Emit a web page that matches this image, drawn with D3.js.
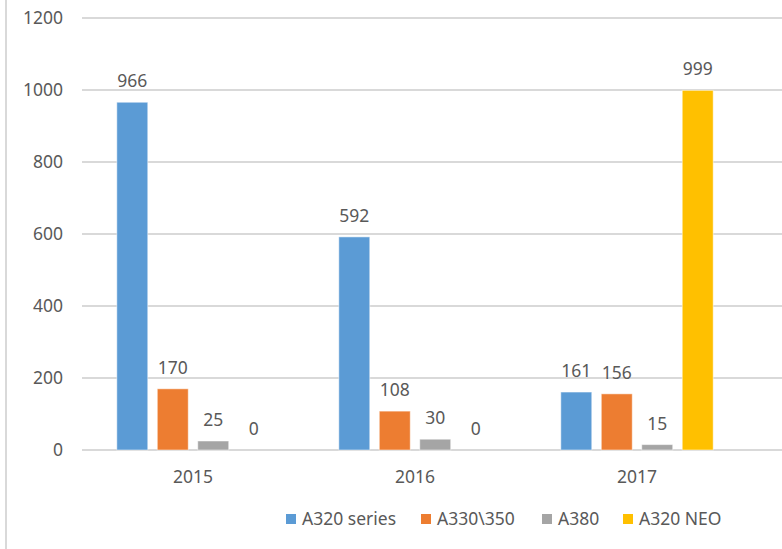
<!DOCTYPE html>
<html>
<head>
<meta charset="utf-8">
<script src="https://cdn.jsdelivr.net/npm/d3@7"></script>
<style>
  body { margin: 0; background: #fff; }
  text { font-family: 'Noto Sans', sans-serif; fill: #595959; font-size: 17.5px; }
</style>
</head>
<body>
<div class="chart"></div>
<script>
var width = 782, height = 549;
var years = ['2015', '2016', '2017'];
var seriesNames = ['A320 series', 'A330\\350', 'A380', 'A320 NEO'];
var a320 = [966, 592, 161];
var a330 = [170, 108, 156];
var a380 = [25, 30, 15];
var a320neo = [0, 0, 999];
var yTicks = [0, 200, 400, 600, 800, 1000, 1200];
var colors = ['#5b9bd5', '#ed7d31', '#a5a5a5', '#ffc000'];
var gridcolor = '#d9d9d9';

var allSeries = [a320, a330, a380, a320neo];

var svg = d3.select('.chart').append('svg')
  .attr('width', width).attr('height', height);

// left border of the chart box
svg.append('line')
  .attr('x1', 6).attr('x2', 6).attr('y1', 0).attr('y2', height)
  .style('stroke', gridcolor).style('stroke-width', 2);

var yscale = d3.scaleLinear().domain([0, 1200]).range([450, 18]);
var x0 = d3.scaleBand().domain(years).range([82, 748]);
var x1 = d3.scaleBand().domain(seriesNames)
  .range([0, x0.bandwidth()])
  .paddingInner(0.235).paddingOuter(0.86);

// gridlines + y labels
var grid = svg.append('g');
grid.selectAll('line').data(yTicks).enter().append('line')
  .attr('x1', 82).attr('x2', width)
  .attr('y1', function(d){ return yscale(d); })
  .attr('y2', function(d){ return yscale(d); })
  .style('stroke', gridcolor).style('stroke-width', 2);

grid.selectAll('text').data(yTicks).enter().append('text')
  .attr('x', 63)
  .attr('y', function(d){ return yscale(d); })
  .attr('dy', '0.36em')
  .attr('text-anchor', 'end')
  .text(function(d){ return d; });

// bars
var groups = svg.selectAll('.yeargroup').data(years).enter().append('g')
  .attr('class', 'yeargroup')
  .attr('transform', function(d){ return 'translate(' + x0(d) + ',0)'; });

groups.each(function(year, yi){
  var g = d3.select(this);
  var vals = seriesNames.map(function(s, si){ return {name: s, i: si, v: allSeries[si][yi]}; });

  g.selectAll('rect').data(vals).enter().append('rect')
    .attr('x', function(d){ return x1(d.name); })
    .attr('y', function(d){ return yscale(d.v); })
    .attr('width', x1.bandwidth())
    .attr('height', function(d){ return yscale(0) - yscale(d.v); })
    .attr('fill', function(d){ return colors[d.i]; })
    .style('stroke', 'rgba(255,255,255,0.5)')
    .style('stroke-width', 1);

  g.selectAll('text').data(vals).enter().append('text')
    .attr('x', function(d){ return x1(d.name) + x1.bandwidth() / 2; })
    .attr('y', function(d){ return yscale(d.v) - 15; })
    .attr('text-anchor', 'middle')
    .text(function(d){ return d.v; });
});

// x labels
svg.append('g').selectAll('text').data(years).enter().append('text')
  .attr('x', function(d){ return x0(d) + x0.bandwidth() / 2; })
  .attr('y', 483)
  .attr('text-anchor', 'middle')
  .text(function(d){ return d; });

// legend
var legendX = [286, 421, 542, 623];
var legend = svg.append('g').selectAll('g').data(seriesNames).enter().append('g')
  .attr('transform', function(d, i){ return 'translate(' + legendX[i] + ',519)'; });

legend.append('rect')
  .attr('x', 0).attr('y', -5).attr('width', 10).attr('height', 10)
  .attr('fill', function(d, i){ return colors[i]; });

legend.append('text')
  .attr('x', 16).attr('y', 0).attr('dy', '0.36em')
  .text(function(d){ return d; });
</script>
</body>
</html>
